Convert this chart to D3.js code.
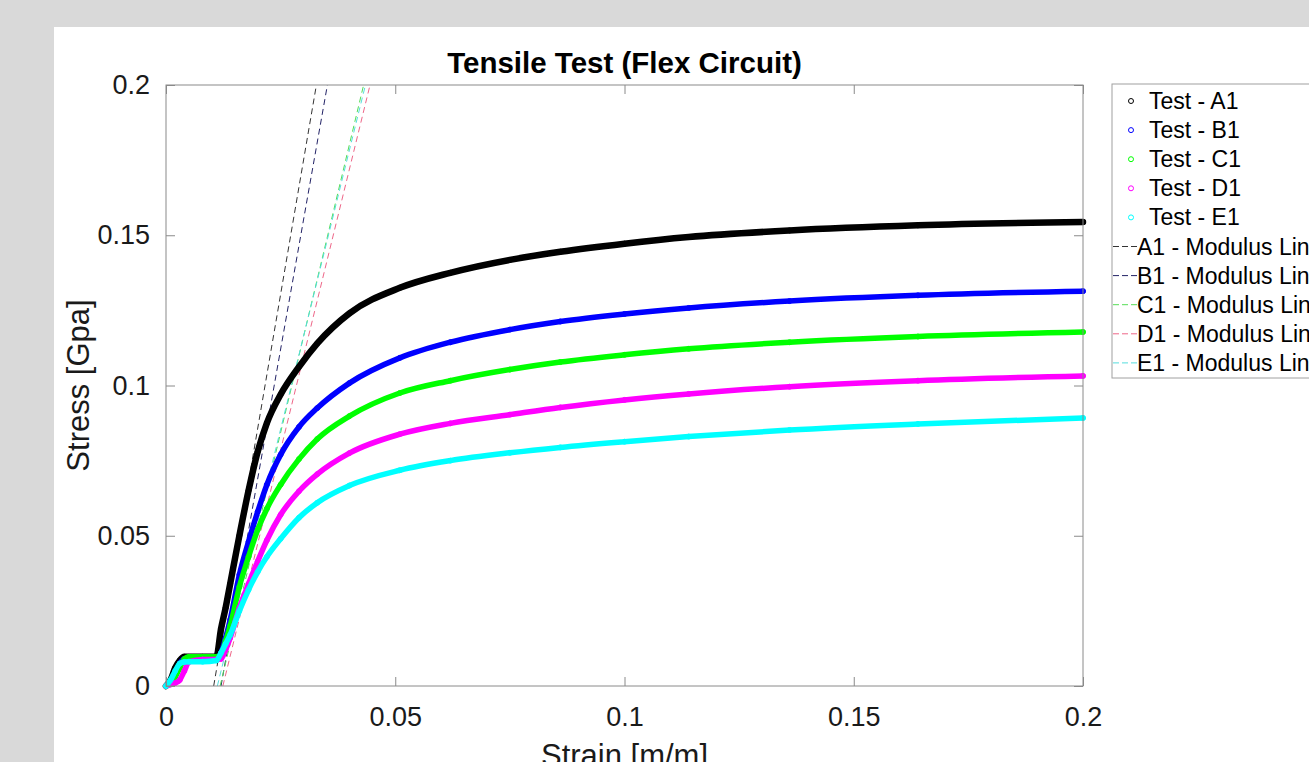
<!DOCTYPE html>
<html>
<head>
<meta charset="utf-8">
<script src="https://cdn.jsdelivr.net/npm/d3@7"></script>
<style>
body{margin:0;background:#d9d9d9;overflow:hidden;}
text{font-family:"Liberation Sans",Arial,sans-serif;}
</style>
</head>
<body>
<script>
var width=1309,height=762;

// strain grid shared by all tests
var strain=[0,0.001,0.002,0.003,0.004,0.005,0.008,0.011,0.012,0.013,0.014,0.016,0.018,0.020,0.022,0.025,0.029,0.033,0.040,0.051,0.062,0.075,0.086,0.1,0.114,0.136,0.164,0.2];
var stressA1=[0,0.002,0.006,0.0085,0.0097,0.0097,0.0097,0.0098,0.019,0.026,0.034,0.050,0.065,0.078,0.0875,0.097,0.1062,0.1140,0.1240,0.1325,0.1375,0.1418,0.1445,0.1472,0.1494,0.1516,0.1533,0.1544];
var stressB1=[0,0.0015,0.004,0.0075,0.009,0.009,0.009,0.009,0.011,0.016,0.022,0.037,0.048,0.058,0.067,0.077,0.0862,0.0925,0.1008,0.1092,0.1144,0.1186,0.1213,0.1238,0.1258,0.1281,0.1300,0.1314];
var stressC1=[0,0.001,0.003,0.006,0.009,0.0097,0.0097,0.0097,0.0105,0.015,0.020,0.033,0.043,0.052,0.059,0.067,0.0755,0.0822,0.0898,0.0975,0.1016,0.1053,0.1078,0.1102,0.1122,0.1144,0.1163,0.1178];
var stressD1=[0,0.0005,0.001,0.002,0.005,0.008,0.0088,0.0088,0.009,0.012,0.016,0.026,0.034,0.0415,0.0485,0.057,0.0648,0.0705,0.0775,0.0838,0.0874,0.0903,0.0927,0.0952,0.0972,0.0996,0.1016,0.1032];
var stressE1=[0,0.002,0.005,0.0075,0.008,0.0081,0.0081,0.0085,0.011,0.014,0.017,0.025,0.032,0.038,0.043,0.049,0.0560,0.0610,0.0667,0.0718,0.0750,0.0776,0.0794,0.0813,0.0830,0.0852,0.0872,0.0892];

var testNames=["Test - A1","Test - B1","Test - C1","Test - D1","Test - E1"];
var testColors=["#000000","#0000ff","#00ff00","#ff00ff","#00ffff"];

// modulus lines: strain at 0 stress and at 0.2 stress
var modNames=["A1 - Modulus Line","B1 - Modulus Line","C1 - Modulus Line","D1 - Modulus Line","E1 - Modulus Line"];
var modStart=[0.0104,0.0120,0.0118,0.0124,0.0112];
var modEnd=[0.0328,0.0352,0.0431,0.0445,0.0435];
var modColors=["#333333","#222266","#55dd55","#ee6688","#55dddd"];

var xTicks=[0,0.05,0.1,0.15,0.2];
var yTicks=[0,0.05,0.1,0.15,0.2];

var svg=d3.select("body").append("svg")
	.attr("width",width).attr("height",height);

svg.append("rect").attr("x",54).attr("y",27).attr("width",width).attr("height",height)
	.attr("fill","#fff");

var x=d3.scaleLinear().domain([0,0.2]).range([166,1083]);
var y=d3.scaleLinear().domain([0,0.2]).range([686,85]);

var plot=svg.append("g");
plot.append("clipPath").attr("id","clip").append("rect")
	.attr("x",166).attr("y",85).attr("width",917).attr("height",601);

// modulus lines
var mods=plot.append("g").attr("clip-path","url(#clip)");
modNames.forEach(function(n,i){
	mods.append("line")
		.attr("x1",x(modStart[i])).attr("y1",y(0))
		.attr("x2",x(modEnd[i])).attr("y2",y(0.2))
		.attr("stroke",modColors[i]).attr("stroke-width",1)
		.attr("stroke-dasharray","6,4");
});

// test curves
var series=[stressA1,stressB1,stressC1,stressD1,stressE1];
var line=d3.line().curve(d3.curveMonotoneX)
	.x(function(d){return x(d[0]);})
	.y(function(d){return y(d[1]);});

series.forEach(function(s,i){
	var pts=strain.map(function(e,k){return [e,s[k]];});
	var g=plot.append("g");
	g.append("path").datum(pts)
		.attr("d",line)
		.attr("fill","none")
		.attr("stroke",testColors[i])
		.attr("stroke-width",i==0?6.5:5.5)
		.attr("stroke-linecap","round")
		.attr("stroke-linejoin","round");
	g.selectAll("circle").data(pts).enter().append("circle")
		.attr("cx",function(d){return x(d[0]);})
		.attr("cy",function(d){return y(d[1]);})
		.attr("r",2.5)
		.attr("fill","none")
		.attr("stroke",testColors[i]).attr("stroke-width",1);
});

// axes box with inward ticks
var axisColor="#8a8a8a";
var tickLen=9;
plot.append("rect").attr("x",166).attr("y",85).attr("width",917).attr("height",601)
	.attr("fill","none").attr("stroke",axisColor).attr("stroke-width",1);

var xb=svg.append("g").attr("transform","translate(0,686)")
	.call(d3.axisBottom(x).tickValues(xTicks).tickSize(-tickLen).tickPadding(21).tickFormat(d3.format("")));
var xt=svg.append("g").attr("transform","translate(0,85)")
	.call(d3.axisTop(x).tickValues(xTicks).tickSize(-tickLen).tickFormat(""));
var yl=svg.append("g").attr("transform","translate(166,0)")
	.call(d3.axisLeft(y).tickValues(yTicks).tickSize(-tickLen).tickPadding(16).tickFormat(d3.format("")));
var yr=svg.append("g").attr("transform","translate(1083,0)")
	.call(d3.axisRight(y).tickValues(yTicks).tickSize(-tickLen).tickFormat(""));

[xb,xt,yl,yr].forEach(function(a){
	a.select(".domain").remove();
	a.selectAll("line").attr("stroke",axisColor);
	a.selectAll("text").attr("fill","#1a1a1a")
		.style("font-size","27px").style("font-family","'Liberation Sans',Arial,sans-serif");
});
xb.selectAll("text").attr("dy","0.71em");

// title and labels
svg.append("text").attr("x",624.5).attr("y",73)
	.attr("text-anchor","middle").attr("font-weight","bold")
	.attr("font-size",29.5).attr("fill","#000")
	.text("Tensile Test (Flex Circuit)");

svg.append("text").attr("x",624.5).attr("y",766)
	.attr("text-anchor","middle").attr("font-size",31).attr("fill","#1a1a1a")
	.text("Strain [m/m]");

svg.append("text").attr("transform","translate(89,385.5) rotate(-90)")
	.attr("text-anchor","middle").attr("font-size",31).attr("fill","#1a1a1a")
	.text("Stress [Gpa]");

// legend
var leg=svg.append("g");
leg.append("rect").attr("x",1112).attr("y",84).attr("width",230).attr("height",294)
	.attr("fill","#fff").attr("stroke","#a0a0a0").attr("stroke-width",1);
var rowY=function(i){return 101+i*29.1;};
testNames.forEach(function(n,i){
	leg.append("circle").attr("cx",1131).attr("cy",rowY(i)).attr("r",2.5)
		.attr("fill","none").attr("stroke",testColors[i]).attr("stroke-width",1);
	leg.append("text").attr("x",1149).attr("y",rowY(i)+8)
		.attr("font-size",23).attr("fill","#000").text(n);
});
modNames.forEach(function(n,i){
	var r=rowY(i+5);
	leg.append("line").attr("x1",1113).attr("x2",1137).attr("y1",r).attr("y2",r)
		.attr("stroke",modColors[i]).attr("stroke-width",1).attr("stroke-dasharray","6,3");
	leg.append("text").attr("x",1137).attr("y",r+8)
		.attr("font-size",23).attr("fill","#000").text(n);
});
</script>
</body>
</html>
